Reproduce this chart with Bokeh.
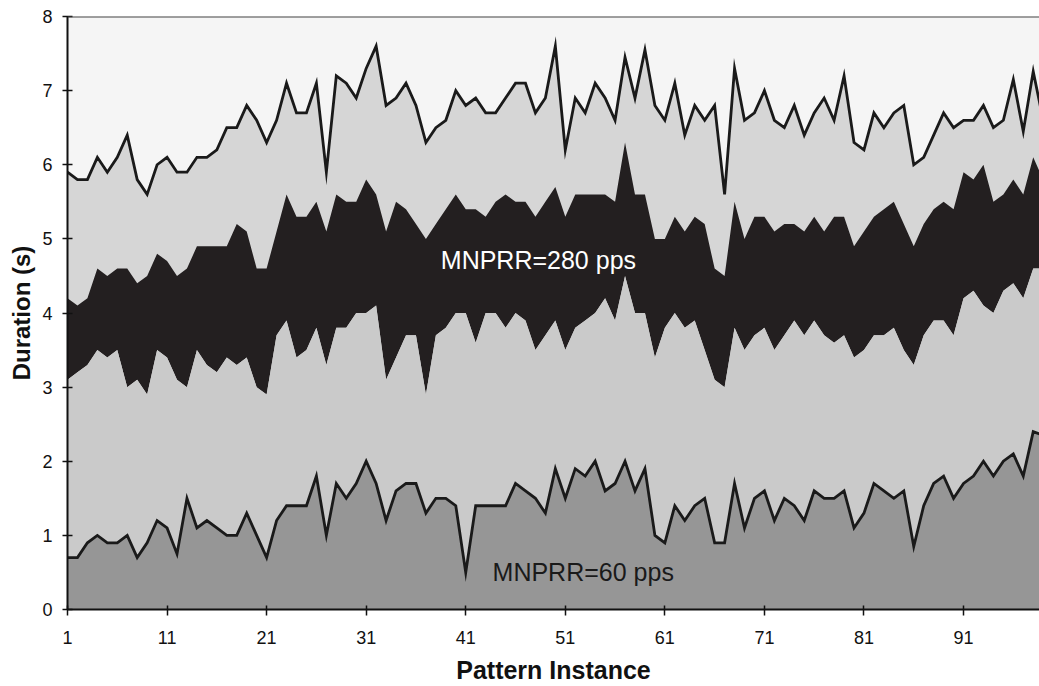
from bokeh.plotting import figure
from bokeh.models import Range1d, FixedTicker, Span, ColumnDataSource
from bokeh.core.properties import value
from bokeh.embed import file_html
from bokeh.resources import INLINE

# Pattern instance index
instance = list(range(1, 100))

# Upper outline (total duration, light grey area)
top_line = [5.9, 5.8, 5.8, 6.1, 5.9, 6.1, 6.4, 5.8, 5.6, 6.0,
            6.1, 5.9, 5.9, 6.1, 6.1, 6.2, 6.5, 6.5, 6.8, 6.6,
            6.3, 6.6, 7.1, 6.7, 6.7, 7.1, 5.9, 7.2, 7.1, 6.9,
            7.3, 7.6, 6.8, 6.9, 7.1, 6.8, 6.3, 6.5, 6.6, 7.0,
            6.8, 6.9, 6.7, 6.7, 6.9, 7.1, 7.1, 6.7, 6.9, 7.6,
            6.2, 6.9, 6.7, 7.1, 6.9, 6.6, 7.45, 6.9, 7.55, 6.8,
            6.6, 7.1, 6.4, 6.8, 6.6, 6.8, 5.6, 7.3, 6.6, 6.7,
            7.0, 6.6, 6.5, 6.8, 6.4, 6.7, 6.9, 6.6, 7.2, 6.3,
            6.2, 6.7, 6.5, 6.7, 6.8, 6.0, 6.1, 6.4, 6.7, 6.5,
            6.6, 6.6, 6.8, 6.5, 6.6, 7.15, 6.45, 7.26, 6.6]

# MNPRR=280 pps band: upper and lower edge
band_high = [4.2, 4.1, 4.2, 4.6, 4.5, 4.6, 4.6, 4.4, 4.5, 4.8,
             4.7, 4.5, 4.6, 4.9, 4.9, 4.9, 4.9, 5.2, 5.1, 4.6,
             4.6, 5.1, 5.6, 5.3, 5.3, 5.5, 5.1, 5.6, 5.5, 5.5,
             5.8, 5.6, 5.1, 5.5, 5.4, 5.2, 5.0, 5.2, 5.4, 5.6,
             5.4, 5.4, 5.3, 5.5, 5.6, 5.5, 5.5, 5.3, 5.5, 5.7,
             5.3, 5.6, 5.6, 5.6, 5.6, 5.5, 6.3, 5.6, 5.6, 5.0,
             5.0, 5.3, 5.1, 5.3, 5.2, 4.6, 4.5, 5.5, 5.0, 5.3,
             5.3, 5.1, 5.2, 5.2, 5.1, 5.3, 5.1, 5.3, 5.3, 4.9,
             5.1, 5.3, 5.4, 5.5, 5.2, 4.9, 5.2, 5.4, 5.5, 5.4,
             5.9, 5.8, 6.0, 5.5, 5.6, 5.8, 5.6, 6.1, 5.8]

band_low = [3.1, 3.2, 3.3, 3.5, 3.4, 3.5, 3.0, 3.1, 2.9, 3.5,
            3.4, 3.1, 3.0, 3.5, 3.3, 3.2, 3.4, 3.3, 3.4, 3.0,
            2.9, 3.7, 3.9, 3.4, 3.5, 3.8, 3.3, 3.8, 3.8, 4.0,
            4.0, 4.1, 3.1, 3.4, 3.7, 3.7, 2.9, 3.7, 3.8, 4.0,
            4.0, 3.6, 4.0, 4.0, 3.8, 4.0, 3.9, 3.5, 3.7, 3.9,
            3.5, 3.8, 3.9, 4.0, 4.2, 3.9, 4.5, 4.0, 4.0, 3.4,
            3.8, 4.0, 3.8, 3.9, 3.5, 3.1, 3.0, 3.8, 3.5, 3.7,
            3.8, 3.5, 3.7, 3.9, 3.7, 3.9, 3.7, 3.6, 3.7, 3.4,
            3.5, 3.7, 3.7, 3.8, 3.5, 3.3, 3.7, 3.9, 3.9, 3.7,
            4.2, 4.3, 4.1, 4.0, 4.3, 4.4, 4.2, 4.6, 4.6]

# MNPRR=60 pps (dark grey area)
low_line = [0.7, 0.7, 0.9, 1.0, 0.9, 0.9, 1.0, 0.7, 0.9, 1.2,
            1.1, 0.75, 1.5, 1.1, 1.2, 1.1, 1.0, 1.0, 1.3, 1.0,
            0.7, 1.2, 1.4, 1.4, 1.4, 1.8, 1.0, 1.7, 1.5, 1.7,
            2.0, 1.7, 1.2, 1.6, 1.7, 1.7, 1.3, 1.5, 1.5, 1.4,
            0.5, 1.4, 1.4, 1.4, 1.4, 1.7, 1.6, 1.5, 1.3, 1.9,
            1.5, 1.9, 1.8, 2.0, 1.6, 1.7, 2.0, 1.6, 1.9, 1.0,
            0.9, 1.4, 1.2, 1.4, 1.5, 0.9, 0.9, 1.7, 1.1, 1.5,
            1.6, 1.2, 1.5, 1.4, 1.2, 1.6, 1.5, 1.5, 1.6, 1.1,
            1.3, 1.7, 1.6, 1.5, 1.6, 0.85, 1.4, 1.7, 1.8, 1.5,
            1.7, 1.8, 2.0, 1.8, 2.0, 2.1, 1.8, 2.4, 2.35]

x_ticks = [1, 11, 21, 31, 41, 51, 61, 71, 81, 91]
y_ticks = [0, 1, 2, 3, 4, 5, 6, 7, 8]
labels = ["MNPRR=280 pps", "MNPRR=60 pps"]

src = ColumnDataSource(dict(x=instance, top=top_line, hi=band_high,
                            lo=band_low, low=low_line))

FONT = "Liberation Sans"

p = figure(width=1039, height=686, output_backend="svg", toolbar_location=None,
           x_range=Range1d(1, 98.63), y_range=Range1d(0, 8),
           min_border_left=67, min_border_right=0, min_border_top=16,
           min_border_bottom=75)
p.background_fill_color = "#f5f5f5"
p.border_fill_color = "white"
p.outline_line_color = None
p.xgrid.visible = False
p.ygrid.visible = False

p.varea(x="x", y1=0, y2="top", source=src, fill_color="#d6d6d6")
p.varea(x="x", y1="lo", y2="hi", source=src, fill_color="#231f20")
p.varea(x="x", y1="low", y2="lo", source=src, fill_color="#cacaca")
p.varea(x="x", y1=0, y2="low", source=src, fill_color="#969696")
p.line(x="x", y="top", source=src, line_color="#1a1a1a", line_width=2.8,
       line_join="miter")
p.line(x="x", y="low", source=src, line_color="#1a1a1a", line_width=2.8,
       line_join="miter")

p.add_layout(Span(location=8, dimension="width", line_color="#444444",
                  line_width=2))

p.text(x=[48.3], y=[4.72], text=[labels[0]], text_color="white",
       text_font=value(FONT), text_font_size="25px", text_align="center",
       text_baseline="alphabetic")
p.text(x=[52.8], y=[0.51], text=[labels[1]], text_color="#1a1a1a",
       text_font=value(FONT), text_font_size="25px", text_align="center",
       text_baseline="alphabetic")

p.xaxis.ticker = FixedTicker(ticks=x_ticks)
p.yaxis.ticker = FixedTicker(ticks=y_ticks)
p.xaxis.minor_tick_line_color = None
p.yaxis.minor_tick_line_color = None

for ax in (p.xaxis, p.yaxis):
    ax.axis_line_color = "#111111"
    ax.axis_line_width = 2
    ax.major_tick_line_color = "#111111"
    ax.major_tick_line_width = 1.5
    ax.major_label_text_font = FONT
    ax.major_label_text_font_size = "18px"
    ax.major_label_text_color = "#111111"
    ax.axis_label_text_font = FONT
    ax.axis_label_text_font_style = "bold"
    ax.axis_label_text_color = "#111111"

p.xaxis.axis_label = "Pattern Instance"
p.yaxis.axis_label = "Duration (s)"
p.xaxis.axis_label_text_font_size = "25px"
p.yaxis.axis_label_text_font_size = "24px"
p.xaxis.major_tick_in = 4
p.xaxis.major_tick_out = 6
p.yaxis.major_tick_in = 5
p.yaxis.major_tick_out = 5
p.xaxis.major_label_standoff = 15
p.xaxis.axis_label_standoff = 9
p.yaxis.major_label_standoff = 10
p.yaxis.axis_label_standoff = 4

open("out.html", "w").write(file_html(p, INLINE))
